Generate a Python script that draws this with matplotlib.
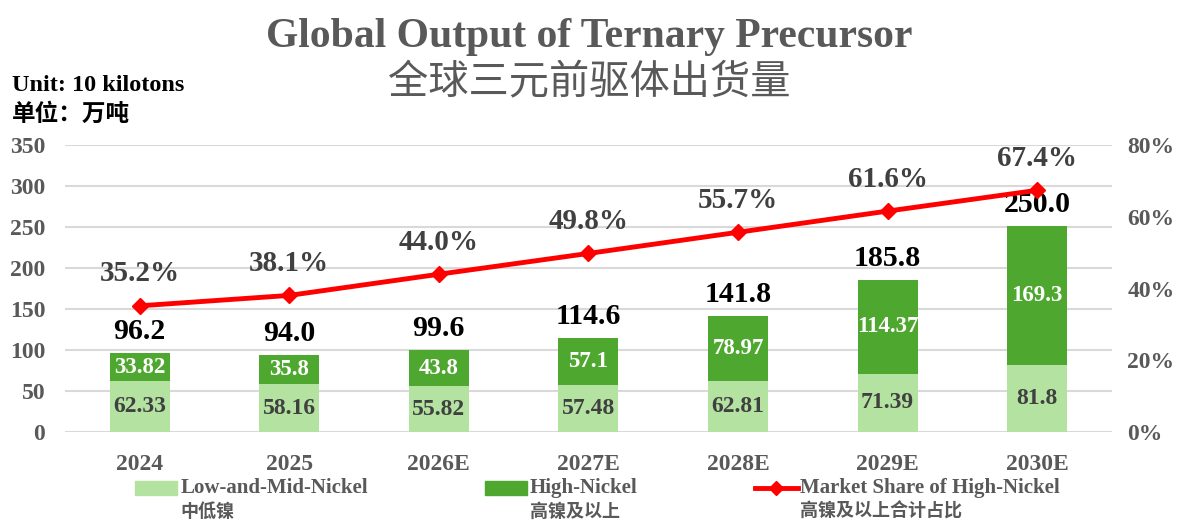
import matplotlib.pyplot as plt
from matplotlib.patches import Rectangle
from matplotlib.lines import Line2D
import numpy as np

years = ["2024", "2025", "2026E", "2027E", "2028E", "2029E", "2030E"]
low_mid = [62.33, 58.16, 55.82, 57.48, 62.81, 71.39, 81.8]
high = [33.82, 35.8, 43.8, 57.1, 78.97, 114.37, 169.3]
high_labels = ["33.82", "35.8", "43.8", "57.1", "78.97", "114.37", "169.3"]
totals = [96.2, 94.0, 99.6, 114.6, 141.8, 185.8, 250.0]
share = [35.2, 38.1, 44.0, 49.8, 55.7, 61.6, 67.4]

names_en = ["Low-and-Mid-Nickel", "High-Nickel", "Market Share of High-Nickel"]
names_cn = ["中低镍", "高镍及以上", "高镍及以上合计占比"]

LIGHT = "#b3e2a1"
DARK = "#4ea72e"
RED = "#ff0000"
GRAY = "#595959"
SERIF = ["Liberation Serif", "Noto Sans CJK SC"]
plt.rcParams["font.family"] = SERIF

fig = plt.figure(figsize=(11.78, 5.2), dpi=100)
ax = fig.add_axes([0.055, 0.169, 0.889, 0.552])
x = np.arange(len(years))
w = 0.4

ax.bar(x, low_mid, w, color=LIGHT, zorder=2)
ax.bar(x, high, w, bottom=low_mid, color=DARK, zorder=2)

for i in range(len(years)):
    ax.text(x[i], low_mid[i] / 2, f"{low_mid[i]:g}", ha="center", va="center",
            fontsize=17, fontweight="bold", color="#404040", zorder=3)
    ax.text(x[i], low_mid[i] + high[i] / 2, high_labels[i], ha="center", va="center",
            fontsize=16.5, fontweight="bold", color="white", zorder=3)
    ax.annotate(f"{totals[i]:.1f}", (x[i], low_mid[i] + high[i]), xytext=(0, 15.5),
                textcoords="offset points", ha="center", va="center",
                fontsize=21.5, fontweight="bold", color="black", zorder=3)

ax.set_ylim(0, 350)
ax.set_yticks(range(0, 351, 50))
ax.set_xlim(-0.5, len(years) - 0.5)
ax.set_xticks(x)
ax.set_xticklabels(years)
ax.grid(axis="y", color="#d9d9d9", linewidth=1.5, zorder=0)
ax.set_axisbelow(True)
for s in ax.spines.values():
    s.set_visible(False)
ax.tick_params(length=0, labelsize=17, labelcolor=GRAY)
ax.tick_params(axis="x", pad=16)
ax.tick_params(axis="y", pad=14)
for lab in ax.get_xticklabels() + ax.get_yticklabels():
    lab.set_fontweight("bold")

ax2 = ax.twinx()
ax2.plot(x, [s / 100 for s in share], color=RED, linewidth=3.5, marker="D",
         markersize=8, zorder=4)
ax2.set_ylim(0, 0.8)
ax2.set_yticks([0, 0.2, 0.4, 0.6, 0.8])
ax2.set_yticklabels(["0%", "20%", "40%", "60%", "80%"])
for s in ax2.spines.values():
    s.set_visible(False)
ax2.tick_params(length=0, labelsize=17, labelcolor=GRAY, pad=11)
for lab in ax2.get_yticklabels():
    lab.set_fontweight("bold")
for i in range(len(years)):
    ax2.annotate(f"{share[i]:.1f}%", (x[i], share[i] / 100), xytext=(0, 23),
                 textcoords="offset points", ha="center", va="center",
                 fontsize=21, fontweight="bold", color="#404040")

fig.text(0.5, 0.928, "Global Output of Ternary Precursor", ha="center", va="center",
         fontsize=30, fontweight="bold", color=GRAY)
fig.text(0.5, 0.838, "全球三元前驱体出货量", ha="center", va="center",
         fontsize=29, color=GRAY)
fig.text(0.01, 0.835, "Unit: 10 kilotons", ha="left", va="center",
         fontsize=17.5, fontweight="bold", color="black")
fig.text(0.01, 0.78, "单位：万吨", ha="left", va="center",
         fontsize=17, fontweight="bold", color="black")

# legend drawn by hand so the Chinese line sits under the English one
handle_x = [0.115, 0.412, 0.641]
for k in range(3):
    hx = handle_x[k]
    if k < 2:
        fig.patches.append(Rectangle((hx, 0.049), 0.035, 0.026,
                                     transform=fig.transFigure,
                                     color=[LIGHT, DARK][k]))
    else:
        fig.lines.append(Line2D([hx, hx + 0.018, hx + 0.036], [0.062] * 3,
                                color=RED, linewidth=3.5, marker="D",
                                markersize=7, markevery=[1],
                                transform=fig.transFigure))
    fig.text(hx + 0.038, 0.062, names_en[k], ha="left", va="center",
             fontsize=15, fontweight="bold", color=GRAY)
    fig.text(hx + 0.038, 0.016, names_cn[k], ha="left", va="center",
             fontsize=13, fontweight="bold", color=GRAY)

fig.savefig("out.png", dpi=100)
